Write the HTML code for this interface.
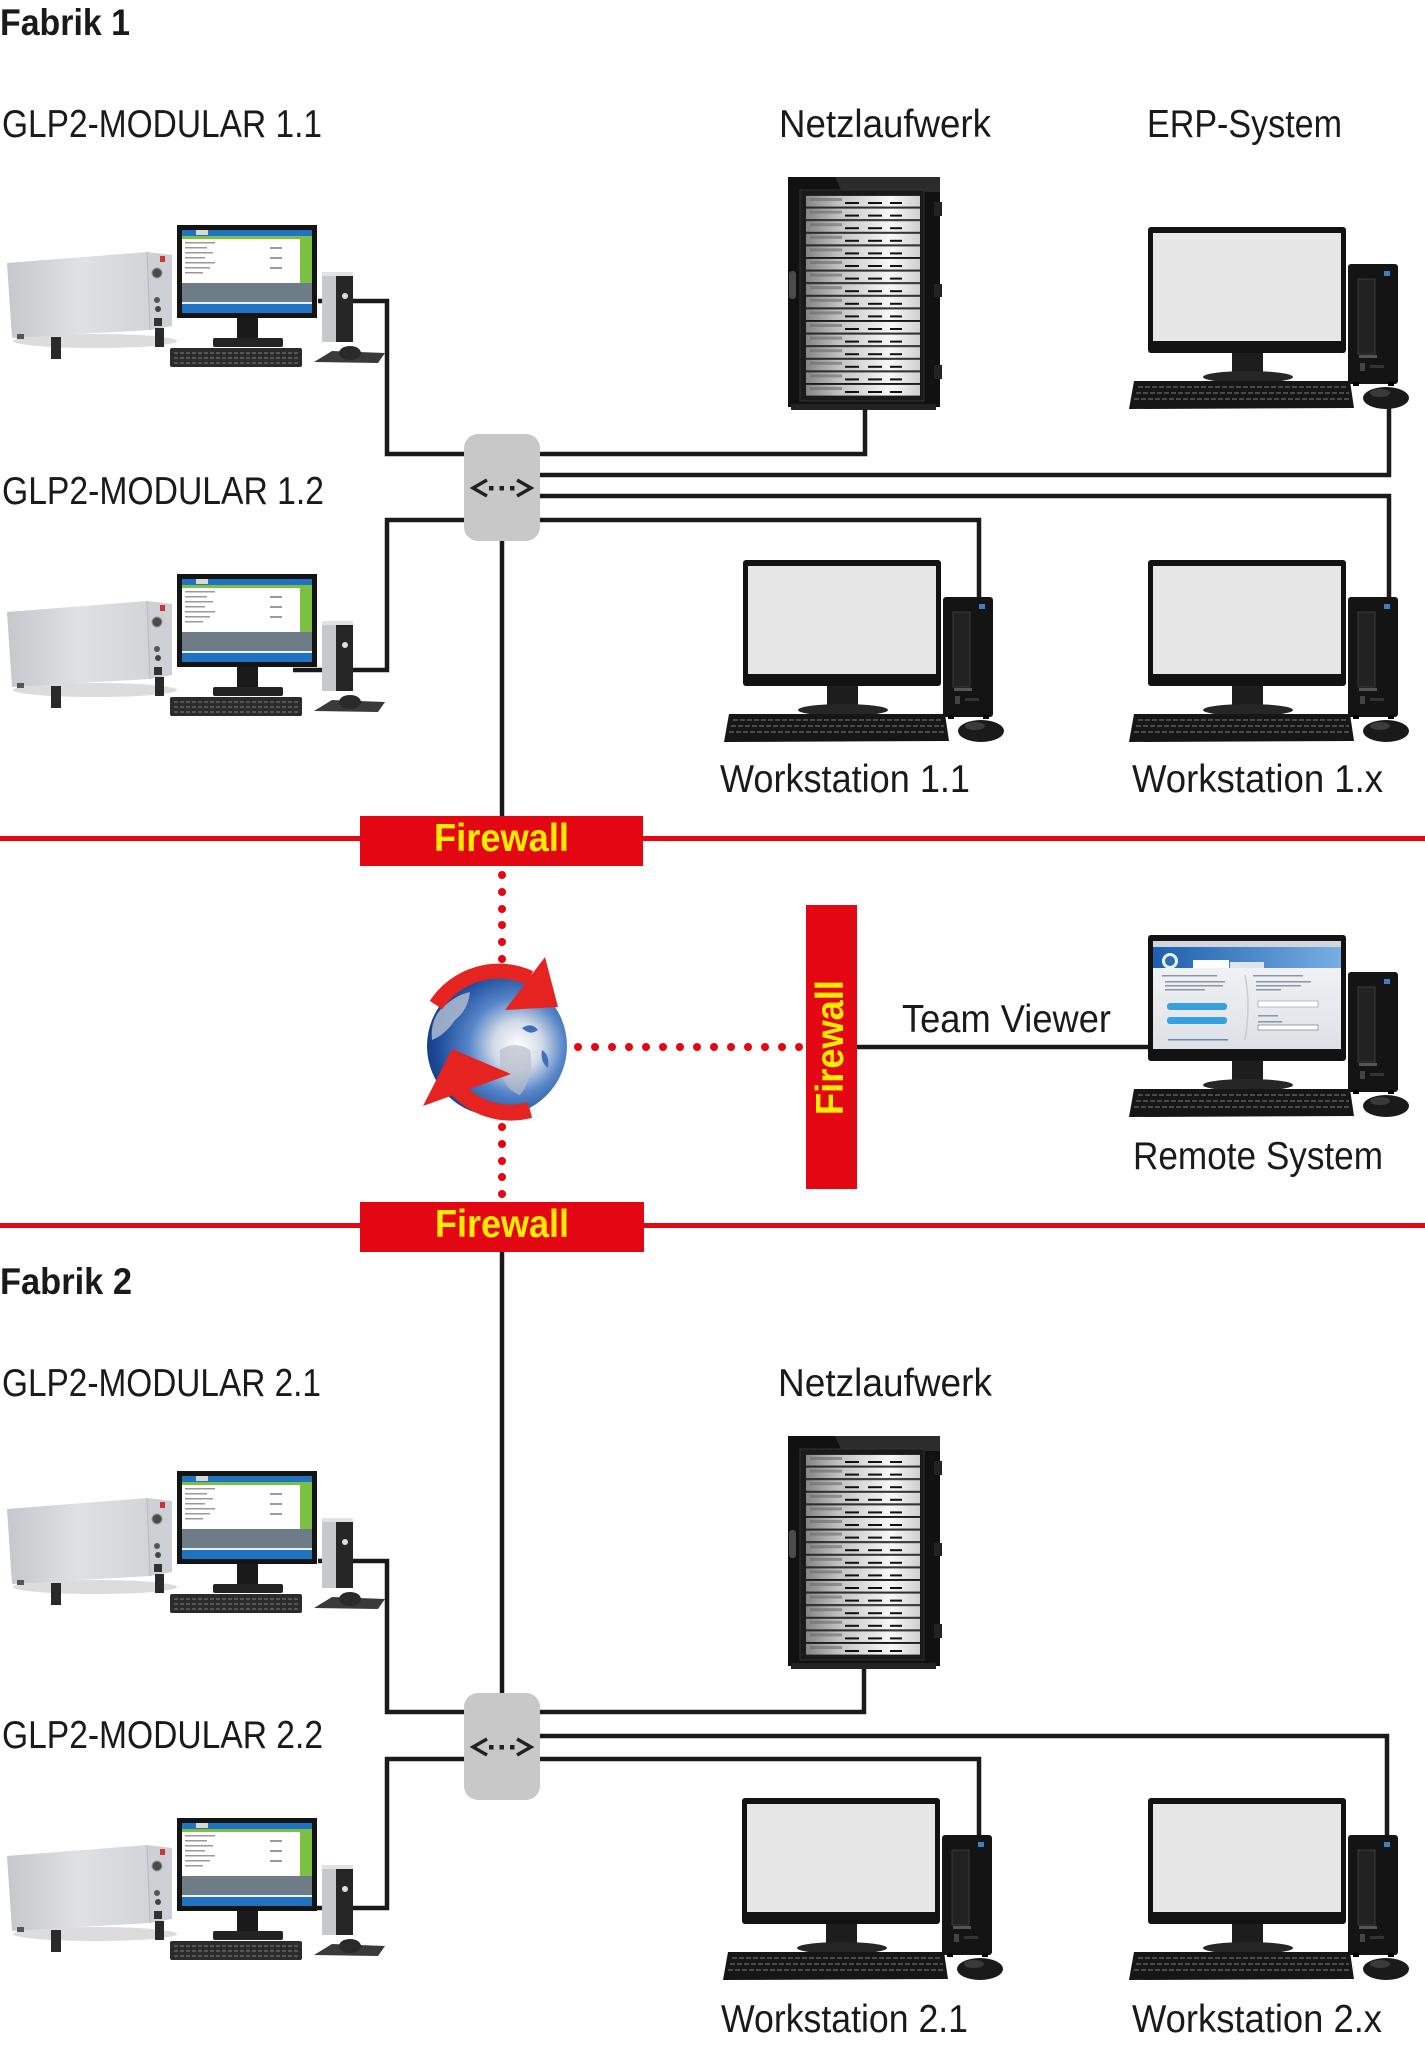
<!DOCTYPE html>
<html><head><meta charset="utf-8"><style>
html,body{margin:0;padding:0;background:#fff;}
svg{display:block}
text{font-family:"Liberation Sans",sans-serif;fill:#1a1a1a}
.lbl{font-size:39px}
.fab{font-size:37px;font-weight:bold}
.fw{font-size:39px;font-weight:bold;fill:#ffed00}
.ln{fill:none;stroke:#1a1a1a;stroke-width:4.5;stroke-linejoin:miter}
</style></head><body>
<svg width="1425" height="2048" viewBox="0 0 1425 2048" xmlns="http://www.w3.org/2000/svg" xmlns:xlink="http://www.w3.org/1999/xlink">
<defs>
 <linearGradient id="gInstr" x1="0" y1="0" x2="1" y2="0">
  <stop offset="0" stop-color="#c4c7cb"/><stop offset="0.5" stop-color="#dfe1e4"/><stop offset="1" stop-color="#d2d5d8"/>
 </linearGradient>
 <linearGradient id="gUnit" x1="0" y1="0" x2="1" y2="0">
  <stop offset="0" stop-color="#858585"/><stop offset="0.3" stop-color="#c4c4c4"/><stop offset="0.75" stop-color="#f8f8f8"/><stop offset="1" stop-color="#cfcfcf"/>
 </linearGradient>
 <linearGradient id="gTV" x1="0" y1="0" x2="1" y2="0">
  <stop offset="0" stop-color="#1d5fae"/><stop offset="1" stop-color="#78aee2"/>
 </linearGradient>
 <linearGradient id="gTVb" x1="0" y1="0" x2="0" y2="1">
  <stop offset="0" stop-color="#f6f7f9"/><stop offset="1" stop-color="#dde1e6"/>
 </linearGradient>
 <radialGradient id="gGlobe" cx="0.62" cy="0.5" r="0.62" fx="0.66" fy="0.5">
  <stop offset="0" stop-color="#ffffff"/><stop offset="0.28" stop-color="#d3dbe8"/><stop offset="0.55" stop-color="#5685c8"/><stop offset="0.85" stop-color="#21519f"/><stop offset="1" stop-color="#173f86"/>
 </radialGradient>

 <g id="glp">
  <ellipse cx="95" cy="341" rx="82" ry="7" fill="#dcdcdc"/>
  <polygon points="7,263 147,252 150,330 12,338" fill="url(#gInstr)"/>
  <polygon points="147,252 172,255 172,326 150,330" fill="#cdd0d4"/>
  <line x1="147" y1="252" x2="150" y2="330" stroke="#b5b8bc" stroke-width="1"/>
  <rect x="51" y="337" width="10" height="22" fill="#2a2a2a"/>
  <rect x="155" y="328" width="9" height="19" fill="#2a2a2a"/>
  <rect x="17" y="334" width="7" height="5" fill="#555"/>
  <circle cx="157" cy="273" r="5" fill="#4a4a4a" stroke="#999" stroke-width="1"/>
  <rect x="160" y="256" width="5" height="6" fill="#c33"/>
  <circle cx="157" cy="300" r="3" fill="#555"/>
  <circle cx="158" cy="309" r="3" fill="#444"/>
  <rect x="154" y="318" width="8" height="8" fill="#333"/>
  <rect x="177" y="225" width="140" height="93" fill="#141414"/>
  <rect x="182" y="230" width="130" height="6" fill="#1f73c0"/>
  <rect x="196" y="230" width="12" height="5" fill="#d8d8d8"/>
  <rect x="182" y="236" width="130" height="47" fill="#ffffff"/>
  <rect x="182" y="236" width="130" height="3" fill="#7bc043"/>
  <rect x="300" y="236" width="12" height="47" fill="#7bc043"/>
  <g fill="#9a9a9a">
   <rect x="185" y="242" width="30" height="1.5"/><rect x="185" y="247" width="22" height="1.5"/><rect x="185" y="252" width="28" height="1.5"/>
   <rect x="185" y="257" width="20" height="1.5"/><rect x="185" y="262" width="30" height="1.5"/><rect x="185" y="267" width="25" height="1.5"/>
   <rect x="185" y="272" width="18" height="1.5"/><rect x="270" y="247" width="12" height="2"/><rect x="270" y="257" width="12" height="2"/><rect x="270" y="267" width="12" height="2"/>
  </g>
  <rect x="182" y="283" width="130" height="19" fill="#6e7c88"/>
  <rect x="182" y="302" width="130" height="11" fill="#1f73c0"/>
  <rect x="182" y="302" width="130" height="2" fill="#e8f0f8"/>
  <rect x="237" y="318" width="21" height="22" fill="#1a1a1a"/>
  <rect x="213" y="338" width="70" height="9" rx="2" fill="#232323"/>
  <rect x="170" y="348" width="132" height="19" rx="2" fill="#2b2b2b"/>
  <g stroke="#555" stroke-width="2" stroke-dasharray="4 2">
   <line x1="174" y1="353" x2="298" y2="353"/><line x1="174" y1="358" x2="298" y2="358"/><line x1="174" y1="363" x2="298" y2="363"/>
  </g>
  <rect x="322" y="272" width="31" height="70" fill="#c5c9cd"/>
  <rect x="336" y="272" width="17" height="70" fill="#262626"/>
  <rect x="322" y="272" width="31" height="4" fill="#e0e2e4"/>
  <circle cx="345" cy="296" r="3" fill="#ddd"/>
  <polygon points="314,362 332,351 385,353 378,363" fill="#3a3a3a"/>
  <ellipse cx="350" cy="353" rx="11" ry="7" fill="#2a2a2a"/>
 </g>

 <g id="ws">
  <rect x="200" y="37" width="50" height="120" rx="3" fill="#141414"/>
  <rect x="210" y="52" width="17" height="75" fill="#222" stroke="#3a3a3a" stroke-width="1"/>
  <rect x="211" y="128" width="18" height="3" fill="#555"/>
  <rect x="236" y="44" width="6" height="5" fill="#3a7fc0"/>
  <rect x="212" y="136" width="5" height="8" fill="#444"/>
  <rect x="222" y="138" width="14" height="3" fill="#333"/>
  <rect x="205" y="155" width="6" height="4" fill="#000"/>
  <rect x="240" y="155" width="6" height="4" fill="#000"/>
  <rect x="0" y="0" width="198" height="126" rx="3" fill="#121212"/>
  <rect x="5" y="6" width="188" height="108" fill="#e6e6e6"/>
  <rect x="84" y="126" width="31" height="22" fill="#1d1d1d"/>
  <ellipse cx="100" cy="150" rx="45" ry="6" fill="#262626"/>
  <polygon points="-14,154 202,154 206,181 -19,182" fill="#161616"/>
  <g stroke="#4a4a4a" stroke-width="2" stroke-dasharray="5 2">
   <line x1="-10" y1="160" x2="200" y2="160"/><line x1="-12" y1="166" x2="201" y2="166"/><line x1="-14" y1="172" x2="202" y2="172"/>
  </g>
  <ellipse cx="238" cy="171" rx="23" ry="11" fill="#1a1a1a"/>
  <ellipse cx="232" cy="166" rx="10" ry="4" fill="#3a3a3a"/>
 </g>

 <g id="unit">
  <rect x="806" y="0" width="114" height="11.6" fill="url(#gUnit)"/>
  <rect x="806" y="0" width="114" height="1" fill="#2a2a2a"/>
  <rect x="810" y="3" width="32" height="3" fill="#6a6a6a" opacity=".6"/>
  <rect x="845" y="7" width="14" height="2" fill="#111"/>
  <rect x="868" y="7" width="14" height="2" fill="#111"/>
  <rect x="890" y="7" width="12" height="2" fill="#111"/>
 </g>

 <g id="rack">
  <rect x="788" y="177" width="152" height="230" fill="#111"/>
  <polygon points="835,177 940,177 940,192 842,192" fill="#2c2c2c"/>
  <rect x="800" y="190" width="124" height="211" fill="#1a1a1a" stroke="#333" stroke-width="1"/>
  <use xlink:href="#unit" y="195"/><use xlink:href="#unit" y="207.6"/><use xlink:href="#unit" y="220.2"/><use xlink:href="#unit" y="232.8"/>
  <use xlink:href="#unit" y="245.4"/><use xlink:href="#unit" y="258"/><use xlink:href="#unit" y="270.6"/><use xlink:href="#unit" y="283.2"/>
  <use xlink:href="#unit" y="295.8"/><use xlink:href="#unit" y="308.4"/><use xlink:href="#unit" y="321"/><use xlink:href="#unit" y="333.6"/>
  <use xlink:href="#unit" y="346.2"/><use xlink:href="#unit" y="358.8"/><use xlink:href="#unit" y="371.4"/><use xlink:href="#unit" y="384"/>
  <rect x="934" y="202" width="8" height="14" fill="#222"/>
  <rect x="934" y="284" width="8" height="13" fill="#222"/>
  <rect x="934" y="365" width="8" height="14" fill="#222"/>
  <rect x="789" y="271" width="7" height="28" rx="3" fill="#4a4a4a"/>
  <rect x="791" y="404" width="145" height="6" fill="#222"/>
 </g>

 <g id="sw">
  <rect x="464" y="434" width="76" height="107" rx="14" fill="#c8c8c8"/>
  <path d="M487,480 L473,488 L487,496 M517,480 L531,488 L517,496" fill="none" stroke="#222" stroke-width="3.4"/>
  <rect x="489" y="486" width="4.5" height="4.5" fill="#222"/>
  <rect x="499.5" y="486" width="4.5" height="4.5" fill="#222"/>
  <rect x="510" y="486" width="4.5" height="4.5" fill="#222"/>
 </g>
</defs>

<rect width="1425" height="2048" fill="#fff"/>

<!-- red separator lines -->
<rect x="0" y="836" width="1425" height="5" fill="#e30613"/>
<rect x="0" y="1223" width="1425" height="5" fill="#e30613"/>

<!-- connectors top -->
<path class="ln" d="M318,301 H387 V454 H464"/>
<path class="ln" d="M540,454 H865 V409"/>
<path class="ln" d="M540,475 H1389 V405"/>
<path class="ln" d="M540,496 H1389 V600"/>
<path class="ln" d="M540,520 H979 V600"/>
<path class="ln" d="M464,520 H387 V670 H293"/>
<path class="ln" d="M502,541 V816"/>

<!-- connectors bottom -->
<path class="ln" d="M502,1252 V1693"/>
<path class="ln" d="M318,1561 H387 V1712 H464"/>
<path class="ln" d="M540,1712 H864 V1668"/>
<path class="ln" d="M540,1736 H1387 V1840"/>
<path class="ln" d="M540,1759 H979 V1840"/>
<path class="ln" d="M464,1759 H387 V1908 H293"/>

<!-- team viewer line -->
<path class="ln" d="M857,1047 H1150"/>

<!-- dots -->
<g fill="#e30613">
 <circle cx="502" cy="875" r="4"/><circle cx="502" cy="892" r="4"/><circle cx="502" cy="909" r="4"/><circle cx="502" cy="925" r="4"/><circle cx="502" cy="942" r="4"/><circle cx="502" cy="959" r="4"/>
 <circle cx="502" cy="1127" r="4"/><circle cx="502" cy="1144" r="4"/><circle cx="502" cy="1161" r="4"/><circle cx="502" cy="1177" r="4"/><circle cx="502" cy="1194" r="4"/>
 <circle cx="578" cy="1047" r="4"/><circle cx="595" cy="1047" r="4"/><circle cx="612" cy="1047" r="4"/><circle cx="629" cy="1047" r="4"/><circle cx="646" cy="1047" r="4"/>
 <circle cx="663" cy="1047" r="4"/><circle cx="680" cy="1047" r="4"/><circle cx="697" cy="1047" r="4"/><circle cx="714" cy="1047" r="4"/><circle cx="731" cy="1047" r="4"/>
 <circle cx="748" cy="1047" r="4"/><circle cx="765" cy="1047" r="4"/><circle cx="782" cy="1047" r="4"/><circle cx="799" cy="1047" r="4"/>
</g>

<!-- switches -->
<use xlink:href="#sw"/>
<use xlink:href="#sw" y="1259"/>

<!-- GLP2 devices -->
<use xlink:href="#glp"/>
<use xlink:href="#glp" y="349"/>
<use xlink:href="#glp" y="1246"/>
<use xlink:href="#glp" y="1593"/>

<!-- racks -->
<use xlink:href="#rack"/>
<use xlink:href="#rack" y="1259"/>

<!-- workstations -->
<use xlink:href="#ws" transform="translate(1148,227)"/>
<use xlink:href="#ws" transform="translate(743,560)"/>
<use xlink:href="#ws" transform="translate(1148,560)"/>
<use xlink:href="#ws" transform="translate(1148,935)"/>
<use xlink:href="#ws" transform="translate(742,1798)"/>
<use xlink:href="#ws" transform="translate(1148,1798)"/>

<!-- TeamViewer screen -->
<g transform="translate(1148,935)">
 <rect x="5" y="6" width="188" height="108" fill="url(#gTVb)"/>
 <rect x="5" y="6" width="188" height="6" fill="#d2d6db"/>
 <rect x="5" y="12" width="188" height="21" fill="url(#gTV)"/>
 <circle cx="22" cy="26" r="8" fill="#e8f2fb"/>
 <circle cx="22" cy="26" r="5" fill="#2a6db5"/>
 <rect x="45" y="25" width="36" height="8" fill="#fff"/>
 <rect x="82" y="27" width="34" height="6" fill="#dfe5ec"/>
 <g fill="#8a96a6">
  <rect x="14" y="40" width="55" height="1.5"/><rect x="17" y="46" width="60" height="1.5"/><rect x="17" y="50" width="58" height="1.5"/><rect x="17" y="54" width="40" height="1.5"/>
  <rect x="105" y="40" width="50" height="1.5"/><rect x="108" y="46" width="55" height="1.5"/><rect x="108" y="50" width="45" height="1.5"/><rect x="108" y="54" width="25" height="1.5"/>
  <rect x="110" y="80" width="20" height="1.5"/><rect x="110" y="86" width="24" height="1.5"/>
 </g>
 <rect x="19" y="68" width="60" height="7" rx="3" fill="#39a0e0"/>
 <rect x="19" y="82" width="60" height="7" rx="3" fill="#39a0e0"/>
 <path d="M97,40 Q103,70 97,105" fill="none" stroke="#c5ccd4" stroke-width="1.5"/>
 <rect x="110" y="66" width="60" height="6" fill="#fff" stroke="#aab" stroke-width="0.8"/>
 <rect x="110" y="90" width="60" height="5" fill="#fff" stroke="#889" stroke-width="0.8"/>
 <rect x="20" y="104" width="60" height="1.5" fill="#6b88b5"/>
</g>

<!-- globe -->
<circle cx="497" cy="1046" r="70" fill="url(#gGlobe)"/>
<path d="M440,1010 Q455,995 470,992 Q468,1010 455,1020 Q445,1035 432,1040 Q430,1022 440,1010Z" fill="#b8c2d2" opacity="0.8"/>
<path d="M500,1050 Q515,1040 530,1050 Q535,1075 520,1095 Q505,1090 500,1070Z" fill="#b9bfca" opacity="0.7"/>
<path d="M522,1028 Q532,1022 538,1030 Q530,1036 522,1028Z" fill="#3d6fbd"/>
<path d="M542,1050 Q550,1055 548,1068 Q540,1062 542,1050Z" fill="#3d6fbd"/>
<!-- red arrows -->
<path d="M436,1005 A75,75 0 0 1 530,978" fill="none" stroke="#e52421" stroke-width="15"/>
<polygon points="545,957 558,1007 505,1010" fill="#e52421"/>
<path d="M447,1075 A73,73 0 0 0 530,1110" fill="none" stroke="#e52421" stroke-width="16"/>
<polygon points="423,1106 452,1049 511,1074" fill="#e52421"/>

<!-- firewall boxes -->
<rect x="360" y="816" width="283" height="50" fill="#e30613"/>
<rect x="360" y="1202" width="284" height="50" fill="#e30613"/>
<rect x="806" y="905" width="51" height="284" fill="#e30613"/>
<text class="fw" x="434" y="851" textLength="135" lengthAdjust="spacingAndGlyphs">Firewall</text>
<text class="fw" x="435" y="1237" textLength="134" lengthAdjust="spacingAndGlyphs">Firewall</text>
<text class="fw" transform="translate(843,1115) rotate(-90)" x="0" y="0" textLength="135" lengthAdjust="spacingAndGlyphs">Firewall</text>

<!-- labels -->
<text class="fab" x="0" y="35" textLength="130" lengthAdjust="spacingAndGlyphs">Fabrik 1</text>
<text class="lbl" x="2" y="137" textLength="320" lengthAdjust="spacingAndGlyphs">GLP2-MODULAR 1.1</text>
<text class="lbl" x="2" y="504" textLength="322" lengthAdjust="spacingAndGlyphs">GLP2-MODULAR 1.2</text>
<text class="lbl" x="779" y="137" textLength="212" lengthAdjust="spacingAndGlyphs">Netzlaufwerk</text>
<text class="lbl" x="1147" y="137" textLength="195" lengthAdjust="spacingAndGlyphs">ERP-System</text>
<text class="lbl" x="720" y="792" textLength="250" lengthAdjust="spacingAndGlyphs">Workstation 1.1</text>
<text class="lbl" x="1132" y="792" textLength="251" lengthAdjust="spacingAndGlyphs">Workstation 1.x</text>
<text class="lbl" x="902" y="1032" textLength="209" lengthAdjust="spacingAndGlyphs">Team Viewer</text>
<text class="lbl" x="1133" y="1169" textLength="250" lengthAdjust="spacingAndGlyphs">Remote System</text>
<text class="fab" x="0" y="1294" textLength="132" lengthAdjust="spacingAndGlyphs">Fabrik 2</text>
<text class="lbl" x="2" y="1396" textLength="319" lengthAdjust="spacingAndGlyphs">GLP2-MODULAR 2.1</text>
<text class="lbl" x="778" y="1396" textLength="214" lengthAdjust="spacingAndGlyphs">Netzlaufwerk</text>
<text class="lbl" x="2" y="1748" textLength="321" lengthAdjust="spacingAndGlyphs">GLP2-MODULAR 2.2</text>
<text class="lbl" x="721" y="2032" textLength="247" lengthAdjust="spacingAndGlyphs">Workstation 2.1</text>
<text class="lbl" x="1132" y="2032" textLength="250" lengthAdjust="spacingAndGlyphs">Workstation 2.x</text>
</svg>
</body></html>
